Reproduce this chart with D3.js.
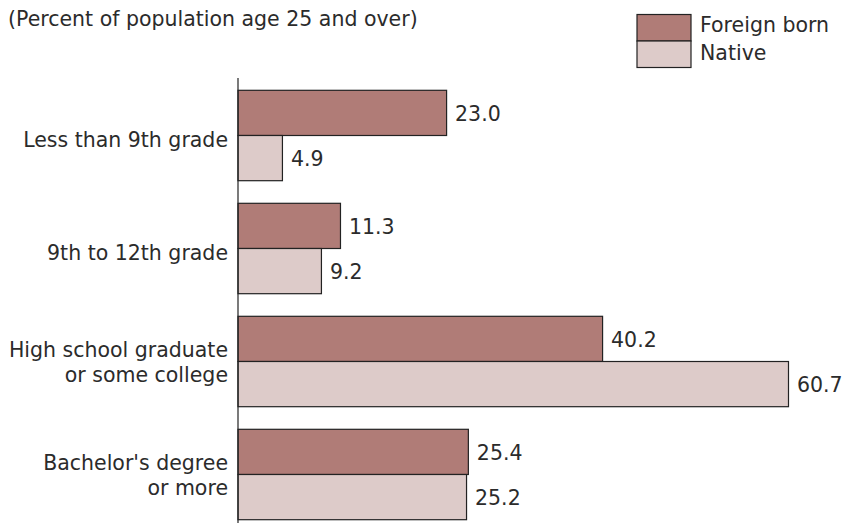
<!DOCTYPE html>
<html><head><meta charset="utf-8">
<script src="https://cdn.jsdelivr.net/npm/d3@7"></script>
<style>body{margin:0;background:#fff}svg{display:block}text{font-family:"DejaVu Sans",sans-serif;fill:#2b2b2b}</style>
</head><body><svg id="c" width="843" height="525"></svg>
<script>
const categories = [["Less than 9th grade"],["9th to 12th grade"],["High school graduate","or some college"],["Bachelor's degree","or more"]];
const foreignBorn = [23.0, 11.3, 40.2, 25.4];
const native = [4.9, 9.2, 60.7, 25.2];
const seriesNames = ["Foreign born","Native"];
const colors = ["#b07c77","#ddcbc9"];

const FS = 20.5;
const svg = d3.select("#c");
const x0 = 238;
const x = d3.scaleLinear().domain([0, 60.7]).range([x0, 788.5]);
const y = d3.scaleBand().domain(d3.range(categories.length)).range([79, 531]).paddingInner(0.2).paddingOuter(0.1);
const sub = d3.scaleBand().domain([0,1]).range([0, y.bandwidth()]);
const series = [foreignBorn, native];

svg.append("text").attr("x", 8).attr("y", 26).attr("font-size", FS).text("(Percent of population age 25 and over)");

series.forEach((vals, s) => {
  const g = svg.append("g");
  g.selectAll("rect").data(vals).join("rect")
    .attr("x", x(0)).attr("y", (d,i) => y(i) + sub(s))
    .attr("width", d => x(d) - x(0)).attr("height", sub.bandwidth())
    .attr("fill", colors[s]).attr("stroke", "#222").attr("stroke-width", 1.2);
  g.selectAll("text").data(vals).join("text")
    .attr("x", d => x(d) + 8.5).attr("y", (d,i) => y(i) + sub(s) + sub.bandwidth()/2 + 8)
    .attr("font-size", FS).text(d => d.toFixed(1));
});

svg.append("line").attr("x1", x0).attr("x2", x0).attr("y1", 78).attr("y2", 523).attr("stroke", "#222").attr("stroke-width", 1.2);

categories.forEach((lines, i) => {
  const cy = y(i) + y.bandwidth()/2;
  const t = svg.append("text").attr("text-anchor", "end").attr("font-size", FS);
  lines.forEach((l, k) => {
    const base = lines.length === 1 ? cy + 11.5 : cy - 5 + k * 25.7;
    t.append("tspan").attr("x", 228).attr("y", base).text(l);
  });
});

const lg = svg.append("g");
seriesNames.forEach((n, s) => {
  lg.append("rect").attr("x", 637).attr("y", 14.5 + s*26.5).attr("width", 54).attr("height", 26.5)
    .attr("fill", colors[s]).attr("stroke", "#222").attr("stroke-width", 1.2);
  lg.append("text").attr("x", 700).attr("y", 32 + s*28).attr("font-size", FS).text(n);
});
</script></body></html>
